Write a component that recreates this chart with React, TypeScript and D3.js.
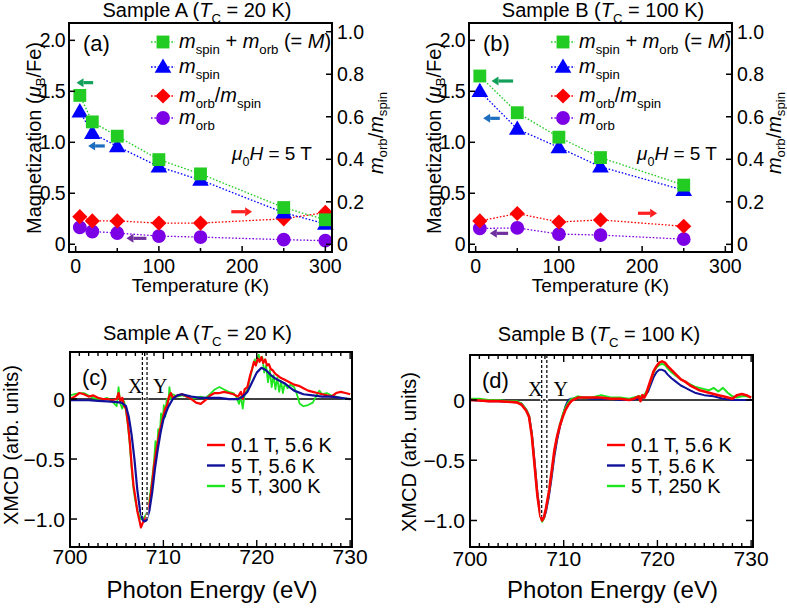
import React from 'react';
import * as d3 from 'd3';

const FONT = "'Liberation Sans', Arial, Helvetica, sans-serif";
const SERIF = "'Liberation Serif', 'Times New Roman', serif";

// ---------- Panel (a) / (b) data ----------
const TEMPS_A = [5, 20, 50, 100, 150, 250, 300];
const TOTAL_A = [1.46, 1.2, 1.06, 0.83, 0.69, 0.36, 0.24];
const SPIN_A = [1.3, 1.09, 0.96, 0.76, 0.63, 0.31, 0.2];
const RATIO_A = [0.13, 0.11, 0.11, 0.1, 0.1, 0.12, 0.15];
const ORB_A = [0.165, 0.125, 0.11, 0.08, 0.07, 0.045, 0.035];

const TEMPS_B = [5, 50, 100, 150, 250];
const TOTAL_B = [1.65, 1.29, 1.05, 0.85, 0.58];
const SPIN_B = [1.5, 1.13, 0.95, 0.76, 0.53];
const RATIO_B = [0.11, 0.145, 0.105, 0.115, 0.085];
const ORB_B = [0.155, 0.16, 0.1, 0.09, 0.05];

const LEFT_TICKS = [0, 0.5, 1.0, 1.5, 2.0];
const RIGHT_TICKS = [0, 0.2, 0.4, 0.6, 0.8, 1.0];
const TEMP_TICKS = [0, 100, 200, 300];
const TEMP_MINOR = [50, 150, 250];

// arrows: [from T, to T, value, axis]
const ARROWS_A = [
  { x1: 21, x2: 1, v: 1.585, axis: 'L', color: '#12a05a' },
  { x1: 35, x2: 15, v: 0.964, axis: 'L', color: '#1e6ec0' },
  { x1: 187, x2: 212, v: 0.319, axis: 'L', color: '#ff2020' },
  { x1: 85, x2: 61, v: 0.058, axis: 'L', color: '#7030a0' },
];
const ARROWS_B = [
  { x1: 45, x2: 19, v: 1.601, axis: 'L', color: '#12a05a' },
  { x1: 29, x2: 9, v: 1.235, axis: 'L', color: '#1e6ec0' },
  { x1: 195, x2: 218, v: 0.304, axis: 'L', color: '#ff2020' },
  { x1: 39, x2: 17, v: 0.107, axis: 'L', color: '#7030a0' },
];

// ---------- Panel (c) data: Sample A XMCD ----------
const C_BLUE_E = [700, 701, 702, 703, 704, 705, 705.5, 706, 706.3, 706.6, 706.9, 707.2, 707.5, 707.8, 708.0, 708.2, 708.5, 708.8, 709.1, 709.4, 709.7, 710.0, 710.5, 711.0, 711.5, 712.0, 713, 714, 715, 716, 717, 718, 718.5, 719, 719.5, 720, 720.5, 721, 721.5, 722, 722.5, 723, 723.5, 724, 725, 726, 727, 728, 729, 730];
const C_BLUE_V = [-0.01, -0.01, -0.01, -0.015, -0.02, -0.025, -0.03, -0.06, -0.15, -0.3, -0.5, -0.75, -0.93, -1.01, -1.02, -1.01, -0.93, -0.78, -0.58, -0.42, -0.28, -0.17, -0.07, 0.0, 0.03, 0.04, 0.02, 0.01, 0.01, 0.01, 0.0, 0.0, 0.02, 0.06, 0.14, 0.22, 0.26, 0.24, 0.2, 0.17, 0.15, 0.13, 0.1, 0.07, 0.04, 0.03, 0.02, 0.02, 0.01, 0.0];

const C_RED_E = [700, 700.5, 701, 701.5, 702, 702.5, 703, 703.5, 704, 704.5, 705, 705.2, 705.4, 705.6, 705.8, 706.0, 706.2, 706.4, 706.6, 706.8, 707.0, 707.2, 707.4, 707.6, 707.8, 708.0, 708.2, 708.4, 708.6, 708.8, 709.0, 709.2, 709.4, 709.6, 709.8, 710.0, 710.2, 710.4, 710.6, 710.8, 711.0, 711.5, 712, 712.5, 713, 713.5, 714, 714.5, 715, 715.5, 716, 716.5, 717, 717.5, 718, 718.3, 718.5, 718.7, 719, 719.3, 719.5, 719.7, 719.9, 720.1, 720.3, 720.5, 720.7, 720.9, 721.1, 721.3, 721.5, 721.7, 722, 722.5, 723, 723.5, 724, 724.5, 725, 725.5, 726, 726.5, 727, 727.5, 728, 728.5, 729, 729.5, 730];
const C_RED_V = [0.0, 0.02, 0.05, 0.04, 0.02, 0.03, 0.01, 0.0, 0.0, -0.01, 0.0, 0.05, -0.02, 0.01, -0.06, -0.08, -0.2, -0.35, -0.55, -0.72, -0.82, -0.93, -1.0, -1.07, -1.03, -1.01, -0.97, -0.92, -0.83, -0.7, -0.56, -0.45, -0.36, -0.27, -0.21, -0.14, -0.08, -0.05, 0.02, 0.05, 0.01, 0.03, 0.04, 0.02, 0.0, -0.03, -0.04, -0.01, 0.03, 0.05, 0.05, 0.06, 0.05, 0.04, 0.02, 0.06, 0.0, 0.08, 0.1, 0.2, 0.25, 0.31, 0.28, 0.34, 0.31, 0.35, 0.3, 0.33, 0.28, 0.29, 0.25, 0.24, 0.21, 0.18, 0.16, 0.14, 0.12, 0.11, 0.09, 0.07, 0.06, 0.05, 0.04, 0.03, 0.02, 0.05, 0.06, 0.05, 0.04];

const C_GREEN_E = [700, 700.5, 701, 701.5, 702, 702.5, 703, 703.5, 704, 704.5, 705, 705.2, 705.4, 705.6, 705.8, 706.0, 706.2, 706.4, 706.6, 706.8, 707.0, 707.2, 707.4, 707.6, 707.8, 708.0, 708.2, 708.4, 708.6, 708.8, 709.0, 709.15, 709.3, 709.45, 709.6, 709.75, 709.9, 710.05, 710.2, 710.35, 710.5, 710.65, 710.8, 711.0, 711.5, 712, 712.5, 713, 713.5, 714, 714.5, 715, 715.5, 716, 716.5, 717, 717.5, 717.8, 718.1, 718.3, 718.5, 718.7, 719, 719.3, 719.6, 719.8, 720.0, 720.2, 720.4, 720.6, 720.8, 721.0, 721.2, 721.4, 721.6, 721.8, 722.0, 722.2, 722.4, 722.6, 722.8, 723.0, 723.3, 723.6, 724.0, 724.3, 724.6, 725, 725.5, 726, 726.4, 726.7, 727, 727.5, 728, 728.5, 729, 729.5, 730];
const C_GREEN_V = [0.03, 0.04, 0.05, 0.05, 0.03, 0.01, 0.0, 0.0, 0.01, -0.02, -0.06, 0.1, -0.04, -0.08, -0.02, -0.1, -0.22, -0.38, -0.58, -0.75, -0.85, -0.92, -0.97, -1.0, -1.0, -0.98, -0.95, -0.88, -0.78, -0.66, -0.52, -0.35, -0.45, -0.25, -0.32, -0.12, -0.2, -0.05, -0.15, 0.0, -0.06, 0.1, 0.0, 0.04, 0.02, 0.03, 0.02, 0.0, 0.01, 0.02, 0.01, 0.04, 0.08, 0.1, 0.08, 0.06, 0.05, 0.02, -0.04, 0.02, -0.08, 0.04, 0.08, 0.18, 0.28, 0.33, 0.3, 0.37, 0.32, 0.35, 0.22, 0.28, 0.14, 0.24, 0.1, 0.2, 0.08, 0.18, 0.06, 0.15, 0.05, 0.13, 0.09, 0.12, 0.1, 0.04, -0.04, -0.06, -0.05, -0.03, 0.03, 0.07, 0.04, 0.05, 0.03, 0.02, 0.01, 0.0, 0.0];

// ---------- Panel (d) data: Sample B XMCD ----------
const D_RED_E = [700, 701, 702, 703, 704, 705, 705.5, 706, 706.3, 706.6, 706.9, 707.2, 707.5, 707.7, 707.9, 708.1, 708.4, 708.7, 709.0, 709.3, 709.6, 709.9, 710.2, 710.5, 710.8, 711.0, 711.5, 712, 713, 714, 715, 716, 717, 717.5, 718, 718.2, 718.4, 718.6, 718.8, 719, 719.3, 719.6, 719.9, 720.2, 720.5, 720.8, 721.1, 721.5, 722, 722.5, 723, 723.5, 724, 724.5, 725, 725.5, 726, 726.5, 727, 727.5, 728, 728.5, 729, 729.5, 730];
const D_RED_V = [0.0, -0.005, -0.01, -0.01, -0.015, -0.02, -0.04, -0.09, -0.14, -0.3, -0.55, -0.8, -0.96, -1.0, -0.97, -0.9, -0.77, -0.6, -0.42, -0.3, -0.21, -0.14, -0.08, -0.04, -0.01, 0.0, 0.02, 0.02, 0.02, 0.02, 0.01, 0.01, 0.0, 0.01, 0.03, -0.01, 0.04, 0.02, 0.05, 0.1, 0.17, 0.24, 0.28, 0.31, 0.32, 0.31, 0.28, 0.25, 0.21, 0.17, 0.15, 0.12, 0.1, 0.08, 0.07, 0.06, 0.05, 0.04, 0.03, 0.02, 0.01, 0.04, 0.05, 0.04, 0.02];

const D_BLUE_E = [700, 701, 702, 703, 704, 705, 705.5, 706, 706.3, 706.6, 706.9, 707.2, 707.5, 707.7, 707.9, 708.1, 708.4, 708.7, 709.0, 709.3, 709.6, 709.9, 710.2, 710.5, 710.8, 711, 711.5, 712, 713, 714, 715, 716, 717, 718, 718.5, 719, 719.3, 719.6, 719.9, 720.2, 720.5, 720.8, 721.1, 721.5, 722, 722.5, 723, 723.5, 724, 724.5, 725, 726, 727, 728, 729, 730];
const D_BLUE_V = [0.0, -0.005, -0.01, -0.01, -0.015, -0.02, -0.03, -0.08, -0.13, -0.28, -0.52, -0.78, -0.95, -1.0, -0.98, -0.93, -0.81, -0.65, -0.47, -0.33, -0.22, -0.13, -0.05, 0.0, 0.01, 0.01, 0.02, 0.02, 0.01, 0.01, 0.01, 0.0, 0.0, 0.01, 0.02, 0.07, 0.13, 0.19, 0.23, 0.25, 0.25, 0.24, 0.21, 0.18, 0.15, 0.12, 0.1, 0.08, 0.06, 0.05, 0.04, 0.03, 0.01, 0.0, 0.0, 0.0];

const D_GREEN_E = [700, 701, 702, 703, 704, 705, 705.5, 706, 706.3, 706.6, 706.9, 707.2, 707.5, 707.7, 707.9, 708.1, 708.4, 708.7, 709.0, 709.3, 709.6, 709.9, 710.2, 710.5, 710.8, 711, 711.5, 712, 713, 714, 715, 716, 717, 718, 718.5, 719, 719.3, 719.6, 719.9, 720.2, 720.5, 720.8, 721.1, 721.5, 722, 722.5, 723, 723.5, 724, 724.5, 725, 725.5, 726, 726.5, 727, 727.5, 728, 728.5, 729, 729.5, 730];
const D_GREEN_V = [0.01, 0.01, 0.0, 0.0, -0.01, -0.01, -0.03, -0.08, -0.13, -0.29, -0.54, -0.8, -0.96, -1.01, -0.98, -0.91, -0.78, -0.61, -0.43, -0.3, -0.2, -0.12, -0.06, -0.02, 0.01, 0.01, 0.03, 0.02, 0.02, 0.04, 0.02, 0.02, 0.01, 0.03, 0.03, 0.09, 0.16, 0.23, 0.27, 0.29, 0.3, 0.29, 0.26, 0.23, 0.2, 0.17, 0.15, 0.13, 0.11, 0.1, 0.09, 0.08, 0.1, 0.07, 0.1, 0.06, 0.03, 0.02, 0.03, 0.03, 0.02];

const E_TICKS = [700, 710, 720, 730];
const E_MINOR = d3.range(700, 731, 1);
const XMCD_TICKS = [0, -0.5, -1.0];
const XMCD_TICK_LABELS = ['0', '\u22120.5', '\u22121.0'];

const DASH_C_E = [707.75, 708.25];
const DASH_C_END = [-0.97, -1.0];
const DASH_D_E = [707.65, 708.2];
const DASH_D_END = [-0.97, -0.75];

const LEGEND_C = ['0.1 T, 5.6 K', '5 T, 5.6 K', '5 T, 300 K'];
const LEGEND_D = ['0.1 T, 5.6 K', '5 T, 5.6 K', '5 T, 250 K'];

const C_RED = '#ff0000';
const C_BLUE = '#10109a';
const C_GREEN = '#1ee61e';

type Seg = { t: string; it?: boolean; sub?: boolean };

function Rich({ x, y, size, segs, anchor = 'start', rotate = 0, subScale = 0.66, subShift = 0.3, family = FONT, fill = '#000' }: any) {
  let shifted = false;
  const shift = size * subShift;
  const kids = (segs as Seg[]).map((s, i) => {
    let dy: number | undefined;
    if (s.sub && !shifted) { dy = shift; shifted = true; }
    else if (!s.sub && shifted) { dy = -shift; shifted = false; }
    return (
      <tspan key={i} dy={dy} fontSize={s.sub ? size * subScale : size} fontStyle={s.it ? 'italic' : 'normal'}>{s.t}</tspan>
    );
  });
  return (
    <text x={x} y={y} fontSize={size} fontFamily={family} textAnchor={anchor} fill={fill} xmlSpace="preserve"
      transform={rotate ? `rotate(${rotate},${x},${y})` : undefined}>{kids}</text>
  );
}

const symSquare = d3.symbol().type(d3.symbolSquare).size(165)()!;
const symDiamond = d3.symbol().type(d3.symbolSquare).size(115)()!;
const symTriangle = d3.symbol().type(d3.symbolTriangle).size(120)()!;
const symCircle = d3.symbol().type(d3.symbolCircle).size(150)()!;

function Marker({ kind, x, y, color }: any) {
  if (kind === 'square') return <path d={symSquare} transform={`translate(${x},${y})`} fill={color} />;
  if (kind === 'diamond') return <path d={symDiamond} transform={`translate(${x},${y}) rotate(45)`} fill={color} />;
  if (kind === 'triangle') return <path d={symTriangle} transform={`translate(${x},${y + 1})`} fill={color} />;
  return <path d={symCircle} transform={`translate(${x},${y})`} fill={color} />;
}

function Arrow({ x1, x2, y, color }: any) {
  const dir = x2 > x1 ? 1 : -1;
  const head = 7;
  const hw = 4.5;
  return (
    <g>
      <line x1={x1} x2={x2 - dir * head} y1={y} y2={y} stroke={color} strokeWidth={3.2} />
      <path d={`M${x2},${y} L${x2 - dir * head},${y - hw} L${x2 - dir * head},${y + hw} Z`} fill={color} />
    </g>
  );
}

const GREEN_M = '#22cc22';
const BLUE_M = '#0000ff';
const RED_M = '#ff0000';
const PURPLE_M = '#7b00e6';

const LEGEND_TOP: { kind: string; color: string; segs: Seg[]; dy: number }[] = [
  { kind: 'square', color: GREEN_M, dy: 42, segs: [{ t: 'm', it: true }, { t: 'spin', sub: true }, { t: ' + ' }, { t: 'm', it: true }, { t: 'orb', sub: true }, { t: ' (= ' }, { t: 'M', it: true }, { t: ')' }] },
  { kind: 'triangle', color: BLUE_M, dy: 67, segs: [{ t: 'm', it: true }, { t: 'spin', sub: true }] },
  { kind: 'diamond', color: RED_M, dy: 96, segs: [{ t: 'm', it: true }, { t: 'orb', sub: true }, { t: '/' }, { t: 'm', it: true }, { t: 'spin', sub: true }] },
  { kind: 'circle', color: PURPLE_M, dy: 118, segs: [{ t: 'm', it: true }, { t: 'orb', sub: true }] },
];

function TopPanel({ L, title, titleX, tag, temps, total, spin, ratio, orb, arrows, muX, rightLabelX }: any) {
  const W = 263, T = 23, B = 252;
  const R = L + W;
  const x = d3.scaleLinear().domain([-8, 308]).range([L, R]);
  const yL = d3.scaleLinear().domain([-0.076, 2.17]).range([B, T]);
  const yR = d3.scaleLinear().domain([-0.036, 1.041]).range([B, T]);
  const series = [
    { vals: orb, y: yL, color: PURPLE_M, kind: 'circle' },
    { vals: ratio, y: yR, color: RED_M, kind: 'diamond' },
    { vals: spin, y: yL, color: BLUE_M, kind: 'triangle' },
    { vals: total, y: yL, color: GREEN_M, kind: 'square' },
  ];
  const fs = 19.5;
  return (
    <g>
      <Rich x={titleX} y={17} size={20} anchor="middle" segs={[{ t: title[0] }, { t: 'T', it: true }, { t: 'C', sub: true }, { t: title[1] }]} />
      {series.map((s, i) => {
        const line = d3.line<number>().x((_, j) => x(temps[j])).y((v) => s.y(v));
        return <path key={'l' + i} d={line(s.vals)!} fill="none" stroke={s.color} strokeWidth={1.3} strokeDasharray="1.6,1.8" />;
      })}
      {series.map((s, i) => (
        <g key={'m' + i}>
          {s.vals.map((v: number, j: number) => <Marker key={j} kind={s.kind} x={x(temps[j])} y={s.y(v)} color={s.color} />)}
        </g>
      ))}
      {arrows.map((a: any, i: number) => <Arrow key={i} x1={x(a.x1)} x2={x(a.x2)} y={(a.axis === 'L' ? yL : yR)(a.v)} color={a.color} />)}
      <rect x={L} y={T} width={W} height={B - T} fill="none" stroke="#000" strokeWidth={2} />
      {LEFT_TICKS.map((v) => (
        <g key={'lt' + v}>
          <line x1={L} x2={L + 6} y1={yL(v)} y2={yL(v)} stroke="#000" strokeWidth={1.5} />
          <text x={L - 4} y={yL(v) + fs * 0.36} fontSize={fs} fontFamily={FONT} textAnchor="end" letterSpacing={-0.6}>{v === 0 ? '0' : v.toFixed(1)}</text>
        </g>
      ))}
      {RIGHT_TICKS.map((v) => (
        <g key={'rt' + v}>
          <line x1={R - 6} x2={R} y1={yR(v)} y2={yR(v)} stroke="#000" strokeWidth={1.5} />
          <text x={R + 5} y={yR(v) + fs * 0.36} fontSize={fs} fontFamily={FONT}>{v === 0 ? '0' : v.toFixed(1)}</text>
        </g>
      ))}
      {TEMP_TICKS.map((v) => (
        <g key={'bt' + v}>
          <line x1={x(v)} x2={x(v)} y1={B} y2={B - 6} stroke="#000" strokeWidth={1.5} />
          <text x={x(v)} y={273} fontSize={fs} fontFamily={FONT} textAnchor="middle">{v}</text>
        </g>
      ))}
      {TEMP_MINOR.map((v) => <line key={'bm' + v} x1={x(v)} x2={x(v)} y1={B} y2={B - 4} stroke="#000" strokeWidth={1.5} />)}
      <text x={L + 14} y={51} fontSize={22} fontFamily={FONT}>{tag}</text>
      {LEGEND_TOP.map((r, i) => (
        <g key={'lg' + i}>
          <line x1={L + 82} x2={L + 106} y1={r.dy} y2={r.dy} stroke={r.color} strokeWidth={1.3} strokeDasharray="1.6,1.8" />
          <Marker kind={r.kind} x={L + 94} y={r.dy} color={r.color} />
          <Rich x={L + 110} y={r.dy + 6} size={20} segs={r.segs} />
        </g>
      ))}
      <Rich x={muX} y={160} size={19} segs={[{ t: '\u03bc', it: true }, { t: '0', sub: true }, { t: 'H', it: true }, { t: ' = 5 T' }]} />
      <Rich x={L - 28} y={138} size={20} anchor="middle" rotate={-90} subShift={0.22} segs={[{ t: 'Magnetization (' }, { t: '\u03bc', it: true }, { t: 'B', sub: true }, { t: '/Fe)' }]} />
      <Rich x={rightLabelX} y={133} size={20} anchor="middle" rotate={-90} subShift={0.22} segs={[{ t: 'm', it: true }, { t: 'orb', sub: true }, { t: '/' }, { t: 'm', it: true }, { t: 'spin', sub: true }]} />
      <text x={(L + R) / 2} y={292} fontSize={19} fontFamily={FONT} textAnchor="middle">Temperature (K)</text>
    </g>
  );
}

function BottomPanel({ L, R, T, B, yDomain, title, titleX, titleY, tag, series, legend, dashE, dashEnd, xyLabelX, xyLabelY, tickY }: any) {
  const x = d3.scaleLinear().domain([700, 730.2]).range([L, R]);
  const y = d3.scaleLinear().domain(yDomain).range([B, T]);
  const fs = 21;
  const clipId = 'clip' + tag.replace(/[()]/g, '');
  return (
    <g>
      <defs>
        <clipPath id={clipId}><rect x={L} y={T} width={R - L} height={B - T} /></clipPath>
      </defs>
      <Rich x={titleX} y={titleY} size={20} anchor="middle" segs={[{ t: title[0] }, { t: 'T', it: true }, { t: 'C', sub: true }, { t: title[1] }]} />
      <line x1={L} x2={R} y1={y(0)} y2={y(0)} stroke="#000" strokeWidth={1.6} />
      <g clipPath={`url(#${clipId})`}>
        {series.map((s: any, i: number) => {
          const line = d3.line<number>().x((_, j) => x(s.e[j])).y((v) => y(v));
          return <path key={i} d={line(s.v)!} fill="none" stroke={s.color} strokeWidth={s.w} strokeLinejoin="round" />;
        })}
      </g>
      {dashE.map((e: number, i: number) => (
        <g key={'d' + i}>
          <line x1={x(e)} x2={x(e)} y1={T} y2={y(dashEnd[i])} stroke="#fff" strokeWidth={2.6} />
          <line x1={x(e)} x2={x(e)} y1={T} y2={y(dashEnd[i])} stroke="#000" strokeWidth={1.2} strokeDasharray="3,2" />
        </g>
      ))}
      <rect x={L} y={T} width={R - L} height={B - T} fill="none" stroke="#000" strokeWidth={2} />
      {E_MINOR.map((v) => {
        const major = v % 10 === 0;
        const len = major ? 7 : 4;
        return (
          <g key={'em' + v}>
            <line x1={x(v)} x2={x(v)} y1={B} y2={B - len} stroke="#000" strokeWidth={1.4} />
            <line x1={x(v)} x2={x(v)} y1={T} y2={T + len} stroke="#000" strokeWidth={1.4} />
          </g>
        );
      })}
      {E_TICKS.map((v) => (
        <text key={'et' + v} x={x(v)} y={tickY} fontSize={fs} fontFamily={FONT} textAnchor="middle">{v}</text>
      ))}
      {XMCD_TICKS.map((v, i) => (
        <g key={'yt' + v}>
          <line x1={L} x2={L + 7} y1={y(v)} y2={y(v)} stroke="#000" strokeWidth={1.5} />
          <line x1={R - 7} x2={R} y1={y(v)} y2={y(v)} stroke="#000" strokeWidth={1.5} />
          <text x={L - 5} y={y(v) + fs * 0.36} fontSize={fs} fontFamily={FONT} textAnchor="end">{XMCD_TICK_LABELS[i]}</text>
        </g>
      ))}
      <text x={L + 12} y={T + 33} fontSize={22} fontFamily={FONT}>{tag}</text>
      <text x={x(706.2)} y={T + 41} fontSize={20} fontFamily={SERIF}>X</text>
      <text x={x(708.9)} y={T + 41} fontSize={20} fontFamily={SERIF}>Y</text>
      {legend.map((lab: string, i: number) => {
        const ly = [445, 465.5, 486][i];
        return (
          <g key={'lg' + i}>
            <line x1={L + 137} x2={L + 155} y1={ly} y2={ly} stroke={series.find((s: any) => s.legend === i).color} strokeWidth={2.4} />
            <text x={L + 161} y={ly + 7} fontSize={20} fontFamily={FONT} xmlSpace="preserve">{lab}</text>
          </g>
        );
      })}
      <text x={xyLabelX} y={xyLabelY} fontSize={20} fontFamily={FONT} textAnchor="middle" transform={`rotate(-90,${xyLabelX},${xyLabelY})`}>XMCD (arb. units)</text>
      <text x={(L + R) / 2 + 1} y={598} fontSize={24} fontFamily={FONT} textAnchor="middle">Photon Energy (eV)</text>
    </g>
  );
}

export default function App() {
  const seriesC = [
    { e: C_GREEN_E, v: C_GREEN_V, color: C_GREEN, w: 1.8, legend: 2 },
    { e: C_RED_E, v: C_RED_V, color: C_RED, w: 2.2, legend: 0 },
    { e: C_BLUE_E, v: C_BLUE_V, color: C_BLUE, w: 2.2, legend: 1 },
  ];
  const seriesD = [
    { e: D_BLUE_E, v: D_BLUE_V, color: C_BLUE, w: 2.0, legend: 1 },
    { e: D_GREEN_E, v: D_GREEN_V, color: C_GREEN, w: 2.0, legend: 2 },
    { e: D_RED_E, v: D_RED_V, color: C_RED, w: 2.6, legend: 0 },
  ];
  return (
    <svg width={787} height={609} style={{ position: 'absolute', left: 0, top: 0, background: '#fff' }}>
      <rect x={0} y={0} width={787} height={609} fill="#fff" />
      <TopPanel L={69} title={['Sample A (', ' = 20 K)']} titleX={197} tag="(a)" rightLabelX={383}
        temps={TEMPS_A} total={TOTAL_A} spin={SPIN_A} ratio={RATIO_A} orb={ORB_A} arrows={ARROWS_A} muX={232} />
      <TopPanel L={469} title={['Sample B (', ' = 100 K)']} titleX={603} tag="(b)" rightLabelX={780.5}
        temps={TEMPS_B} total={TOTAL_B} spin={SPIN_B} ratio={RATIO_B} orb={ORB_B} arrows={ARROWS_B} muX={637} />
      <BottomPanel L={70} R={352} T={352} B={547} yDomain={[-1.233, 0.392]} title={['Sample A (', ' = 20 K)']}
        titleX={197.5} titleY={340} tag="(c)" series={seriesC} legend={LEGEND_C} dashE={DASH_C_E} dashEnd={DASH_C_END}
        xyLabelX={18} xyLabelY={445} tickY={563.5} />
      <BottomPanel L={470} R={753} T={355} B={547} yDomain={[-1.22, 0.373]} title={['Sample B (', ' = 100 K)']}
        titleX={599} titleY={341} tag="(d)" series={seriesD} legend={LEGEND_D} dashE={DASH_D_E} dashEnd={DASH_D_END}
        xyLabelX={416} xyLabelY={452} tickY={566} />
    </svg>
  );
}
